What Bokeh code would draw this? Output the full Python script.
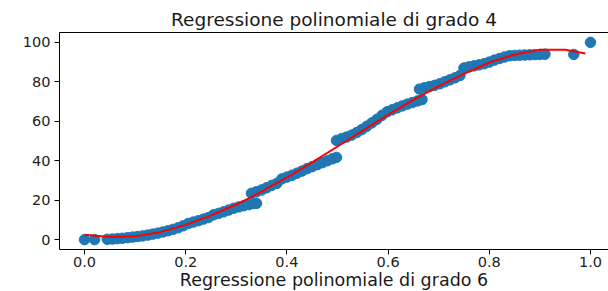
from bokeh.plotting import figure
from bokeh.models import Range1d, FixedTicker, NumeralTickFormatter, Title, LinearAxis
from bokeh.embed import file_html
from bokeh.resources import INLINE

# scatter data
data_x = [0.0, 0.02,
          0.045, 0.055, 0.065, 0.075, 0.085, 0.095, 0.105, 0.115, 0.125, 0.135,
          0.145, 0.155, 0.165, 0.175, 0.185, 0.195, 0.205, 0.215, 0.225, 0.235,
          0.245, 0.255, 0.265, 0.275, 0.285, 0.295, 0.305, 0.315, 0.325, 0.335, 0.34,
          0.33, 0.34, 0.35, 0.36, 0.37, 0.38, 0.39, 0.40, 0.41, 0.42, 0.43, 0.44,
          0.45, 0.46, 0.47, 0.48, 0.49, 0.498,
          0.498, 0.508, 0.518, 0.528, 0.538, 0.548, 0.558, 0.568, 0.578, 0.588,
          0.598, 0.608, 0.618, 0.628, 0.638, 0.648, 0.658, 0.667,
          0.662, 0.672, 0.682, 0.692, 0.702, 0.712, 0.722, 0.732, 0.742,
          0.75, 0.76, 0.77, 0.78, 0.79, 0.80, 0.81, 0.82, 0.83, 0.84, 0.85, 0.86,
          0.87, 0.88, 0.89, 0.90, 0.91,
          0.967, 1.0]
data_y = [0.0, 0.0,
          0.2, 0.3, 0.5, 0.7, 1.0, 1.3, 1.6, 1.9, 2.3, 2.8,
          3.3, 3.9, 4.5, 5.2, 6.0, 7.0, 8.2, 8.9, 9.6, 10.4,
          11.2, 12.6, 13.3, 14.1, 15.0, 15.9, 16.6, 17.2, 17.8, 18.3, 18.4,
          23.5, 24.3, 25.2, 26.3, 27.5, 28.5, 30.8, 31.7, 32.6, 33.7, 34.8, 36.0,
          37.0, 38.0, 39.0, 40.0, 41.0, 41.7,
          50.3, 51.2, 52.0, 53.0, 54.3, 55.8, 57.5, 59.2, 61.0, 63.0,
          64.8, 65.8, 66.8, 67.8, 68.7, 69.5, 70.3, 71.0,
          76.3, 77.0, 77.6, 78.2, 79.0, 80.0, 81.0, 82.0, 83.2,
          87.0, 87.6, 88.1, 88.6, 89.2, 90.0, 91.0, 91.8, 92.6, 93.2, 93.4, 93.5,
          93.6, 93.7, 93.8, 93.9, 94.0,
          93.9, 100.0]

# degree-4 regression curve
fit_x = [0.0, 0.05, 0.10, 0.15, 0.20, 0.25, 0.30, 0.35, 0.40, 0.45, 0.50,
         0.55, 0.60, 0.65, 0.70, 0.75, 0.80, 0.85, 0.90, 0.95, 0.99]
fit_y = [2.5, 1.3, 1.7, 3.8, 7.5, 12.3, 17.8, 24.3, 31.5, 39.2, 47.2,
         55.3, 63.2, 70.8, 77.8, 84.0, 89.8, 93.8, 96.2, 96.3, 94.4]

x_ticks = [0.0, 0.2, 0.4, 0.6, 0.8, 1.0]
y_ticks = [0, 20, 40, 60, 80, 100]
title_text = "Regressione polinomiale di grado 4"
next_title_text = "Regressione polinomiale di grado 6"

FONT = "DejaVu Sans"

p = figure(frame_width=549, frame_height=217,
           x_range=Range1d(-0.0494, 1.0356), y_range=Range1d(-5, 105),
           output_backend="svg", toolbar_location=None,
           min_border_left=59, min_border_right=0, min_border_top=32, min_border_bottom=42)

bottom_axis = p.below[0]
left_axis = p.left[0]

p.background_fill_color = "white"
p.border_fill_color = "white"
p.outline_line_color = None
p.xgrid.visible = False
p.ygrid.visible = False

p.title.text = title_text
p.title.align = "center"
p.title.text_font = FONT
p.title.text_font_size = "18.5px"
p.title.text_font_style = "normal"
p.title.text_color = "#1a1a1a"
p.title.standoff = 6

for ax in (bottom_axis, left_axis):
    ax.axis_line_color = "black"
    ax.axis_line_width = 1
    ax.major_tick_line_color = "black"
    ax.major_tick_out = 5
    ax.major_tick_in = 0
    ax.minor_tick_line_color = None
    ax.major_label_text_font = FONT
    ax.major_label_text_font_size = "14.5px"
    ax.major_label_text_color = "#222222"
    ax.major_label_standoff = 4

bottom_axis.ticker = FixedTicker(ticks=x_ticks)
bottom_axis.formatter = NumeralTickFormatter(format="0.0")
bottom_axis.major_label_standoff = 2
left_axis.ticker = FixedTicker(ticks=y_ticks)

# top spine
top = LinearAxis(ticker=FixedTicker(ticks=[]), major_label_text_font_size="0px",
                 major_tick_out=0, major_tick_in=0, major_label_standoff=0,
                 minor_tick_line_color=None, major_tick_line_color=None,
                 major_label_text_color=None,
                 axis_line_color="black", axis_line_width=1)
p.add_layout(top, "above")

p.scatter(data_x, data_y, size=10.5, color="#1f77b4", line_color="#1f77b4")
p.line(fit_x, fit_y, color="red", line_width=2)

below_title = Title(text=next_title_text, align="center", text_font=FONT,
                    text_font_size="17.5px", text_font_style="normal",
                    text_color="#1a1a1a", standoff=-3)
p.add_layout(below_title, "below")

open("out.html", "w").write(file_html(p, INLINE))
